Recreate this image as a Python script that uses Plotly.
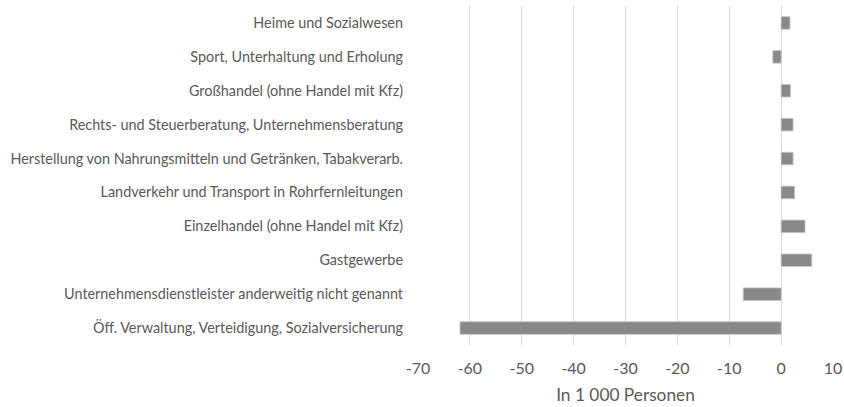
import plotly.graph_objects as go

categories = [
    "Heime und Sozialwesen",
    "Sport, Unterhaltung und Erholung",
    "Großhandel (ohne Handel mit Kfz)",
    "Rechts- und Steuerberatung, Unternehmensberatung",
    "Herstellung von Nahrungsmitteln und Getränken, Tabakverarb.",
    "Landverkehr und Transport in Rohrfernleitungen",
    "Einzelhandel (ohne Handel mit Kfz)",
    "Gastgewerbe",
    "Unternehmensdienstleister anderweitig nicht genannt",
    "Öff. Verwaltung, Verteidigung, Sozialversicherung",
]
values = [1.7, -1.6, 1.8, 2.3, 2.3, 2.6, 4.6, 5.9, -7.3, -61.9]
tick_vals = [-70, -60, -50, -40, -30, -20, -10, 0, 10]

font_family = "Lato, 'Open Sans', sans-serif"
text_color = "#595959"

fig = go.Figure(
    go.Bar(
        x=values,
        y=categories,
        orientation="h",
        marker=dict(color="#898989", line=dict(width=0.8, color="#c4c4c4")),
        width=0.37,
    )
)

fig.update_layout(
    width=844,
    height=407,
    paper_bgcolor="white",
    plot_bgcolor="white",
    margin=dict(l=418, r=11, t=6, b=62),
    showlegend=False,
    font=dict(family=font_family, color=text_color),
    xaxis=dict(
        range=[-70, 10],
        tickvals=tick_vals,
        ticktext=[str(v) for v in tick_vals],
        showgrid=True,
        gridcolor="#d9d9d9",
        gridwidth=1,
        zeroline=False,
        showline=False,
        ticks="",
        automargin=False,
        tickfont=dict(size=16, color=text_color),
        ticklabelstandoff=12,
        title=dict(text="In 1 000 Personen", font=dict(size=17.3, color=text_color), standoff=12),
    ),
    yaxis=dict(
        categoryorder="array",
        categoryarray=categories,
        autorange="reversed",
        showgrid=False,
        zeroline=False,
        showline=False,
        ticks="",
        automargin=False,
        tickfont=dict(size=14.4, color=text_color),
        ticklabelstandoff=14,
    ),
)

fig.write_html(
    "out.html",
    config={"displayModeBar": False},
    post_script="document.body.style.margin='0';document.body.style.overflow='hidden';",
)
